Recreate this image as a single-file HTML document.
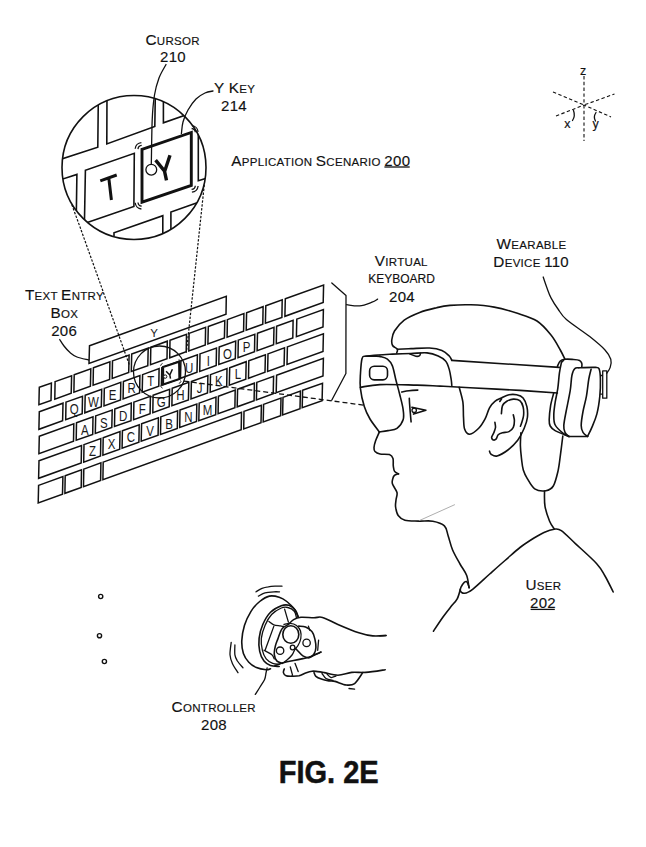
<!DOCTYPE html>
<html><head><meta charset="utf-8">
<style>
html,body{margin:0;padding:0;background:#fff;}
body{width:646px;height:847px;overflow:hidden;}
svg{display:block;}
text{font-family:"Liberation Sans",sans-serif;fill:#111;letter-spacing:0.3px;stroke:#111;stroke-width:0.15px;}
.k{fill:none;stroke:#111;stroke-width:1.5;stroke-linejoin:miter;}
.kl{font-size:11.5px;text-anchor:middle;fill:#1a1a1a;stroke:none;letter-spacing:0;}
.ln{fill:none;stroke:#111;stroke-width:1.6;stroke-linecap:round;stroke-linejoin:round;}
.ml{fill:none;stroke:#111;stroke-width:1.6;stroke-linejoin:miter;}
.let{fill:none;stroke:#111;stroke-width:3.0;stroke-linecap:butt;}
.yk{fill:none;stroke:#111;stroke-width:2.9;}
.arc{fill:none;stroke:#111;stroke-width:1.3;}
.th{fill:none;stroke:#111;stroke-width:1.3;stroke-linecap:round;stroke-linejoin:round;}
.ds{fill:none;stroke:#111;stroke-width:1.2;stroke-dasharray:2.4 1.5;}
.lb{font-size:15px;}
.cap{font-size:15.3px;}
.sc{font-size:11.5px;}
</style></head><body>
<svg width="646" height="847" viewBox="0 0 646 847">
<rect width="646" height="847" fill="#fff"/>
<text x="145.5" y="44.8"><tspan class="cap">C</tspan><tspan class="sc">URSOR</tspan></text>
<text class="lb" x="160" y="62">210</text>
<text x="214" y="93.4"><tspan class="cap">Y K</tspan><tspan class="sc">EY</tspan></text>
<text class="lb" x="221" y="110.9">214</text>
<text x="231.3" y="165.8"><tspan class="cap">A</tspan><tspan class="sc">PPLICATION </tspan><tspan class="cap">S</tspan><tspan class="sc">CENARIO </tspan><tspan class="lb">200</tspan></text>
<text x="374.8" y="266.1"><tspan class="cap">V</tspan><tspan class="sc">IRTUAL</tspan></text>
<text class="sc" x="368.2" y="283.4" style="font-size:12px;letter-spacing:0">KEYBOARD</text>
<text class="lb" x="389" y="302.4">204</text>
<text x="496.6" y="248.9"><tspan class="cap">W</tspan><tspan class="sc">EARABLE</tspan></text>
<text x="493.3" y="267"><tspan class="cap">D</tspan><tspan class="sc">EVICE </tspan><tspan class="lb">110</tspan></text>
<text x="24.9" y="300.4"><tspan class="cap">T</tspan><tspan class="sc">EXT </tspan><tspan class="cap">E</tspan><tspan class="sc">NTRY</tspan></text>
<text x="50.5" y="318"><tspan class="cap">B</tspan><tspan class="sc">OX</tspan></text>
<text class="lb" x="51.2" y="336.3">206</text>
<text x="525.5" y="590"><tspan class="cap">U</tspan><tspan class="sc">SER</tspan></text>
<text class="lb" x="530" y="607.5">202</text><line x1="530.6" y1="609.4" x2="554.8" y2="609.4" stroke="#111" stroke-width="1.3"/>
<line x1="384.4" y1="167" x2="409.7" y2="167" stroke="#111" stroke-width="1.3"/>
<text x="171.6" y="712.4"><tspan class="cap">C</tspan><tspan class="sc">ONTROLLER</tspan></text>
<text class="lb" x="201" y="729.8">208</text>
<text transform="translate(278.8,782.9) scale(1,1.11)" x="0" y="0" style="font-size:29px;font-weight:bold;stroke:#111;stroke-width:0.5;letter-spacing:0">FIG. 2E</text>
<polygon class="k" points="39.3,387.3 51.4,383.0 51.0,400.5 38.9,404.8"/>
<polygon class="k" points="55.1,381.6 71.6,375.7 71.2,393.2 54.8,399.1"/>
<polygon class="k" points="74.2,374.7 90.8,368.8 90.4,386.3 73.9,392.2"/>
<polygon class="k" points="93.4,367.8 109.9,361.9 109.6,379.4 93.1,385.3"/>
<polygon class="k" points="112.5,360.9 129.1,355.0 128.7,372.5 112.2,378.4"/>
<polygon class="k" points="131.7,354.0 148.2,348.1 147.8,365.6 131.3,371.5"/>
<polygon class="k" points="150.8,347.2 167.3,341.2 167.0,358.7 150.5,364.7"/>
<polygon class="k" points="170.0,340.3 186.5,334.3 186.2,351.8 169.7,357.8"/>
<polygon class="k" points="189.1,333.4 205.6,327.4 205.3,344.9 188.8,350.9"/>
<polygon class="k" points="208.3,326.5 224.8,320.5 224.4,338.0 207.9,344.0"/>
<polygon class="k" points="227.4,319.6 243.9,313.6 243.6,331.1 227.1,337.1"/>
<polygon class="k" points="246.6,312.7 263.1,306.7 262.8,324.2 246.2,330.2"/>
<polygon class="k" points="265.8,305.8 282.2,299.9 281.9,317.4 265.4,323.3"/>
<polygon class="k" points="285.3,298.8 323.6,285.0 323.2,302.5 284.9,316.3"/>
<polygon class="k" points="39.3,411.8 63.0,403.2 62.6,420.7 38.9,429.3"/>
<polygon class="k" points="66.0,402.1 82.5,396.2 82.2,413.7 65.7,419.6"/>
<text class="kl" transform="translate(74.2,408.5) scale(1,1.3)" x="0" y="4.1">Q</text>
<polygon class="k" points="85.2,395.3 101.7,389.3 101.3,406.8 84.8,412.8"/>
<text class="kl" transform="translate(93.4,401.6) scale(1,1.3)" x="0" y="4.1">W</text>
<polygon class="k" points="104.3,388.4 120.8,382.4 120.5,399.9 104.0,405.9"/>
<text class="kl" transform="translate(112.5,394.7) scale(1,1.3)" x="0" y="4.1">E</text>
<polygon class="k" points="123.4,381.5 139.9,375.5 139.6,393.0 123.1,399.0"/>
<text class="kl" transform="translate(131.7,387.8) scale(1,1.3)" x="0" y="4.1">R</text>
<polygon class="k" points="142.6,374.6 159.1,368.6 158.8,386.1 142.2,392.1"/>
<text class="kl" transform="translate(150.8,381.0) scale(1,1.3)" x="0" y="4.1">T</text>
<polygon class="k" points="161.8,367.7 178.2,361.7 177.9,379.2 161.4,385.2"/>
<polygon class="k" points="180.9,360.8 197.4,354.8 197.0,372.3 180.5,378.3"/>
<text class="kl" transform="translate(189.1,367.2) scale(1,1.3)" x="0" y="4.1">U</text>
<polygon class="k" points="200.0,353.9 216.5,348.0 216.2,365.5 199.7,371.4"/>
<text class="kl" transform="translate(208.3,360.3) scale(1,1.3)" x="0" y="4.1">I</text>
<polygon class="k" points="219.2,347.0 235.7,341.1 235.3,358.6 218.8,364.5"/>
<text class="kl" transform="translate(227.4,353.4) scale(1,1.3)" x="0" y="4.1">O</text>
<polygon class="k" points="238.3,340.1 254.8,334.2 254.5,351.7 238.0,357.6"/>
<text class="kl" transform="translate(246.6,346.5) scale(1,1.3)" x="0" y="4.1">P</text>
<polygon class="k" points="257.5,333.2 274.0,327.3 273.6,344.8 257.1,350.7"/>
<polygon class="k" points="276.6,326.3 293.1,320.4 292.8,337.9 276.3,343.8"/>
<polygon class="k" points="296.8,319.1 323.4,309.5 323.0,327.0 296.4,336.6"/>
<polygon class="k" points="39.3,436.2 73.8,423.8 73.5,441.3 38.9,453.7"/>
<polygon class="k" points="76.5,422.8 93.0,416.9 92.7,434.4 76.2,440.3"/>
<text class="kl" transform="translate(84.8,429.2) scale(1,1.3)" x="0" y="4.1">A</text>
<polygon class="k" points="95.7,415.9 112.2,410.0 111.8,427.5 95.3,433.4"/>
<text class="kl" transform="translate(103.9,422.3) scale(1,1.3)" x="0" y="4.1">S</text>
<polygon class="k" points="114.8,409.0 131.3,403.1 131.0,420.6 114.5,426.5"/>
<text class="kl" transform="translate(123.1,415.4) scale(1,1.3)" x="0" y="4.1">D</text>
<polygon class="k" points="133.9,402.1 150.4,396.2 150.1,413.7 133.6,419.6"/>
<text class="kl" transform="translate(142.2,408.5) scale(1,1.3)" x="0" y="4.1">F</text>
<polygon class="k" points="153.1,395.2 169.6,389.3 169.2,406.8 152.8,412.7"/>
<text class="kl" transform="translate(161.3,401.6) scale(1,1.3)" x="0" y="4.1">G</text>
<polygon class="k" points="172.2,388.3 188.8,382.4 188.4,399.9 171.9,405.8"/>
<text class="kl" transform="translate(180.5,394.7) scale(1,1.3)" x="0" y="4.1">H</text>
<polygon class="k" points="191.4,381.5 207.9,375.5 207.5,393.0 191.0,399.0"/>
<text class="kl" transform="translate(199.6,387.8) scale(1,1.3)" x="0" y="4.1">J</text>
<polygon class="k" points="210.5,374.6 227.0,368.6 226.7,386.1 210.2,392.1"/>
<text class="kl" transform="translate(218.8,380.9) scale(1,1.3)" x="0" y="4.1">K</text>
<polygon class="k" points="229.7,367.7 246.2,361.7 245.8,379.2 229.3,385.2"/>
<text class="kl" transform="translate(237.9,374.0) scale(1,1.3)" x="0" y="4.1">L</text>
<polygon class="k" points="248.8,360.8 265.4,354.8 265.0,372.3 248.5,378.3"/>
<polygon class="k" points="268.0,353.9 284.5,347.9 284.1,365.4 267.6,371.4"/>
<polygon class="k" points="287.4,346.9 323.4,333.9 323.0,351.4 287.0,364.4"/>
<polygon class="k" points="39.0,460.8 81.5,445.5 81.2,463.0 38.6,478.3"/>
<polygon class="k" points="84.0,444.6 100.8,438.5 100.5,456.0 83.7,462.1"/>
<text class="kl" transform="translate(92.4,450.9) scale(1,1.3)" x="0" y="4.1">Z</text>
<polygon class="k" points="103.2,437.7 120.0,431.6 119.7,449.1 102.9,455.2"/>
<text class="kl" transform="translate(111.6,444.0) scale(1,1.3)" x="0" y="4.1">X</text>
<polygon class="k" points="122.4,430.7 139.2,424.7 138.9,442.2 122.1,448.2"/>
<text class="kl" transform="translate(130.8,437.1) scale(1,1.3)" x="0" y="4.1">C</text>
<polygon class="k" points="141.6,423.8 158.4,417.8 158.1,435.3 141.2,441.3"/>
<text class="kl" transform="translate(150.0,430.2) scale(1,1.3)" x="0" y="4.1">V</text>
<polygon class="k" points="160.8,416.9 177.6,410.9 177.3,428.4 160.5,434.4"/>
<text class="kl" transform="translate(169.2,423.2) scale(1,1.3)" x="0" y="4.1">B</text>
<polygon class="k" points="180.0,410.0 196.8,404.0 196.5,421.5 179.7,427.5"/>
<text class="kl" transform="translate(188.4,416.3) scale(1,1.3)" x="0" y="4.1">N</text>
<polygon class="k" points="199.2,403.1 216.0,397.1 215.7,414.6 198.8,420.6"/>
<text class="kl" transform="translate(207.6,409.4) scale(1,1.3)" x="0" y="4.1">M</text>
<polygon class="k" points="218.4,396.2 235.2,390.1 234.9,407.6 218.1,413.7"/>
<polygon class="k" points="237.6,389.3 254.4,383.2 254.1,400.7 237.2,406.8"/>
<polygon class="k" points="256.8,382.4 273.6,376.3 273.2,393.8 256.4,399.9"/>
<polygon class="k" points="276.6,375.2 323.4,358.4 323.0,375.9 276.2,392.7"/>
<polygon class="k" points="38.6,485.4 62.9,476.6 62.5,494.1 38.2,502.9"/>
<polygon class="k" points="65.2,475.8 81.5,469.9 81.2,487.4 64.9,493.3"/>
<polygon class="k" points="83.8,469.1 100.9,462.9 100.6,480.4 83.5,486.6"/>
<polygon class="k" points="103.2,462.1 241.5,412.3 241.2,429.8 102.9,479.6"/>
<polygon class="k" points="244.0,411.4 261.4,405.2 261.0,422.7 243.7,428.9"/>
<polygon class="k" points="263.6,404.4 281.0,398.1 280.6,415.6 263.2,421.9"/>
<polygon class="k" points="283.0,397.4 300.4,391.1 300.0,408.6 282.6,414.9"/>
<polygon class="k" points="302.6,390.3 322.5,383.2 322.1,400.7 302.2,407.8"/>
<polygon class="k" points="89.5,345.7 226.3,296.3 226,314.2 89,363.4"/>
<text class="kl" x="154.2" y="337">Y</text>
<circle class="th" cx="159.5" cy="372" r="26"/>
<polygon points="163.1,366.9 179.1,361.8 179.4,379.1 163.1,384.5" fill="#fff" stroke="#111" stroke-width="2.1"/>
<path d="M166.1,371.3 L169.8,375 M172.4,369.3 L169.8,375 L170.5,378.6" fill="none" stroke="#111" stroke-width="1.5"/>
<circle cx="165.2" cy="376.6" r="1.7" fill="#fff" stroke="#111" stroke-width="1"/>
<path d="M160.6,365.8 Q161,363.8 162.6,363.4 M160.5,385.6 Q161,387.6 162.6,388.2 M181.2,381.2 Q180.6,383 178.8,383.4 M178.6,359.8 Q180.4,360 181,361.6" fill="none" stroke="#111" stroke-width="0.9"/>
<line class="ds" x1="81.1" y1="230" x2="129.4" y2="365"/>
<line class="ds" x1="71.8" y1="204.6" x2="81.1" y2="230"/>
<line class="ds" x1="204.3" y1="184.8" x2="186.4" y2="352.6"/>
<path class="ln" d="M396.7,352.9 C396.8,352.3 398.0,350.4 397.3,349.2 C396.6,348.0 393.5,347.1 392.6,345.5 C391.7,343.9 391.5,342.3 391.8,339.9 C392.1,337.5 392.4,334.3 394.5,331.0 C396.6,327.7 400.0,323.2 404.2,320.1 C408.4,317.0 414.3,314.5 419.7,312.4 C425.1,310.3 431.6,308.9 436.7,307.7 C441.8,306.5 444.3,305.9 450.0,305.4 C455.7,304.9 463.6,304.5 471.0,304.8 C478.4,305.1 486.5,305.7 494.2,307.1 C501.9,308.5 510.3,311.0 517.4,313.3 C524.5,315.6 531.4,317.4 537.0,321.0 C542.6,324.6 547.1,330.2 551.0,335.0 C554.9,339.8 558.0,345.9 560.3,350.0 C562.6,354.1 564.2,357.8 565.0,359.3"/>
<path class="ln" d="M397.3,349.2 C399.6,349.1 405.6,348.8 411.0,348.6 C416.4,348.4 424.4,347.7 429.5,348.0 C434.6,348.3 438.6,349.1 441.9,350.4 C445.2,351.7 447.6,354.3 449.3,356.0 C451.0,357.7 451.4,359.7 451.8,360.4"/>
<path class="ln" d="M451.8,360.4 L559.2,367.4"/>
<path class="ln" d="M365.7,356.2 C367.8,356.0 373.7,355.4 378.1,355.0 C382.6,354.6 386.9,354.4 392.4,354.1 C397.9,353.9 405.2,353.7 411.0,353.5 C416.8,353.3 422.5,352.5 427.0,352.9 C431.5,353.3 435.1,354.6 438.2,356.0 C441.3,357.4 443.8,358.7 445.6,361.0 C447.5,363.3 448.4,366.5 449.3,369.6 C450.2,372.7 450.8,376.9 451.2,379.5 C451.6,382.1 451.7,384.5 451.8,385.5"/>
<path class="ln" d="M410.0,354.0 C411.0,354.4 414.3,355.9 415.9,356.2 C417.5,356.5 418.9,356.1 419.6,355.6 C420.4,355.1 420.3,353.7 420.4,353.3"/>
<path class="ln" d="M380.0,356.4 C377.6,356.4 368.7,355.8 365.7,356.2 C362.7,356.6 362.9,355.6 362.0,358.7 C361.1,361.8 360.7,369.9 360.4,374.8 C360.1,379.8 359.8,383.1 360.4,388.4 C361.0,393.7 362.7,401.4 364.3,406.5 C365.9,411.6 367.5,414.8 370.0,419.0 C372.5,423.2 377.8,429.8 379.4,431.9"/>
<path class="ln" d="M380.0,356.4 C381.2,356.8 385.3,357.5 387.4,359.1 C389.5,360.7 391.0,362.4 392.4,365.9 C393.8,369.4 394.7,375.3 395.9,380.0 C397.1,384.7 398.4,389.2 399.6,394.0 C400.8,398.8 402.4,404.4 403.0,408.7 C403.6,412.9 404.2,416.2 403.2,419.5 C402.2,422.8 399.5,426.4 397.0,428.3 C394.5,430.2 390.9,430.0 388.0,430.6 C385.1,431.2 380.8,431.7 379.4,431.9"/>
<rect class="ln" x="369.6" y="366.3" width="17.9" height="13.6" rx="4.6" ry="4.6"/>
<path class="ln" d="M360.4,387.3 C363.7,386.9 370.6,385.0 380.0,384.6 C389.4,384.2 407.0,384.9 417.0,385.1 C427.0,385.4 431.2,385.7 440.0,386.1 C448.8,386.5 456.7,387.0 470.0,387.7 C483.3,388.4 505.4,389.5 520.0,390.4 C534.6,391.3 551.2,392.6 557.4,393.0"/>
<path class="ln" d="M401.7,392.0 C402.9,391.8 406.3,391.1 409.0,390.8 C411.7,390.5 416.3,390.2 417.8,390.1"/>
<path class="ln" d="M409.3,398.3 C409.4,399.2 409.4,401.4 409.6,404.0 C409.8,406.6 410.1,411.0 410.4,414.0 C410.6,417.0 411.0,420.6 411.1,421.9"/>
<path class="ln" d="M411.9,407.2 L425.9,410.2 L413.5,414.1"/>
<circle class="th" cx="414.2" cy="410.3" r="2.2"/>
<path class="ln" d="M379.4,431.9 C378.8,433.4 376.5,438.2 375.6,440.8 C374.7,443.4 374.1,445.7 374.0,447.5 C373.9,449.3 374.0,450.4 375.0,451.5 C376.0,452.6 377.6,453.5 380.0,454.0 C382.4,454.5 387.2,453.9 389.4,454.6 C391.6,455.4 392.4,456.6 393.0,458.5 C393.6,460.4 393.0,463.9 393.3,466.0 C393.6,468.1 393.7,470.1 394.6,471.4 C395.5,472.7 397.9,473.4 398.5,473.8"/>
<path class="ln" d="M398.5,473.8 C397.8,474.1 395.2,474.7 394.2,475.6 C393.2,476.6 392.9,478.1 392.6,479.5 C392.3,480.9 391.8,481.9 392.5,484.1 C393.2,486.3 396.4,489.9 397.0,492.5 C397.6,495.1 396.2,497.6 396.0,500.0 C395.8,502.4 395.2,504.4 395.6,507.0 C396.0,509.6 396.6,513.3 398.2,515.5 C399.8,517.7 401.5,519.3 404.9,520.2 C408.3,521.1 414.1,520.9 418.8,521.1 C423.5,521.3 428.5,520.4 432.8,521.2 C437.1,522.0 441.8,523.4 444.4,525.9 C447.0,528.4 446.8,532.0 448.2,536.0 C449.6,540.0 450.5,545.0 452.5,549.7 C454.5,554.4 457.6,559.7 460.0,564.0 C462.4,568.3 465.2,571.5 466.7,575.5 C468.2,579.5 468.6,585.8 469.0,587.9"/>
<path d="M418.8,520.8 L454.9,504.6" fill="none" stroke="#999" stroke-width="0.8"/>
<path class="ln" d="M459.2,387.3 C459.8,389.8 462.2,397.2 462.9,402.2 C463.6,407.2 463.2,412.6 463.5,417.1 C463.8,421.6 463.6,426.1 464.6,429.0 C465.6,431.9 467.4,434.3 469.7,434.2 C472.0,434.1 476.1,430.9 478.7,428.3 C481.3,425.7 483.4,422.0 485.2,418.6 C487.0,415.2 487.9,410.7 489.5,407.8 C491.1,404.9 492.9,402.9 494.9,401.3 C496.9,399.7 499.0,399.1 501.4,398.0 C503.8,396.9 506.5,395.3 509.0,394.8 C511.5,394.3 514.2,394.3 516.6,394.8 C519.0,395.3 521.4,396.0 523.1,398.0 C524.8,400.0 526.2,403.4 526.9,406.7 C527.6,409.9 527.8,413.9 527.4,417.5 C527.0,421.1 525.8,424.5 524.2,428.3 C522.6,432.1 520.4,436.7 517.7,440.3 C515.0,443.9 511.3,447.4 507.9,450.0 C504.5,452.6 499.9,455.3 497.1,456.0 C494.3,456.7 492.4,455.1 491.1,454.3 C489.8,453.5 489.8,451.6 489.5,451.1"/>
<path class="ln" d="M501.4,413.7 C501.6,412.4 501.6,407.7 502.5,405.6 C503.4,403.5 505.0,402.4 506.8,401.3 C508.6,400.2 511.1,399.2 513.3,399.1 C515.5,399.0 518.2,399.4 519.8,400.7 C521.4,402.0 522.5,404.3 523.1,406.7 C523.7,409.1 523.8,412.8 523.6,415.3 C523.4,417.8 522.5,420.0 522.0,421.8 C521.5,423.6 520.7,425.5 520.4,426.2"/>
<path class="ln" d="M499.8,401.5 L501.6,398.8"/>
<path class="ln" d="M513.3,414.8 C513.5,415.8 514.4,418.7 514.4,420.8 C514.4,422.9 514.2,425.5 513.3,427.3 C512.4,429.1 510.8,430.7 509.0,431.6 C507.2,432.5 504.3,432.2 502.5,432.7 C500.7,433.2 499.3,433.7 498.2,434.8 C497.1,435.9 496.9,438.4 496.0,439.2 C495.1,440.0 493.5,440.1 492.8,439.7 C492.1,439.3 491.5,438.2 491.7,437.0 C491.9,435.8 493.2,434.3 493.8,432.7 C494.4,431.1 495.3,429.2 495.5,427.5 C495.7,425.8 495.0,423.2 494.9,422.4"/>
<path class="ln" d="M520.9,432.7 C520.8,434.9 520.3,441.4 520.4,445.7 C520.5,450.0 521.0,454.6 521.5,458.7 C522.0,462.8 522.3,466.7 523.3,470.0 C524.3,473.3 525.4,475.5 527.3,478.6 C529.2,481.7 531.6,486.8 534.7,488.8 C537.8,490.8 542.8,491.2 545.9,490.7 C549.0,490.2 551.3,489.3 553.3,486.0 C555.3,482.7 556.8,476.2 558.0,471.1 C559.2,466.0 559.6,461.0 560.4,455.1 C561.2,449.2 562.4,439.2 562.8,436.0"/>
<path class="ln" d="M544.5,491.0 C544.6,493.6 544.1,501.3 545.0,506.4 C545.9,511.4 548.1,517.6 549.6,521.3 C551.1,525.0 553.4,527.5 554.2,528.7"/>
<path class="ln" d="M469.3,587.5 C468.8,586.5 467.5,582.1 466.4,581.6 C465.3,581.1 463.5,583.0 462.5,584.5 C461.5,586.0 459.9,589.0 460.2,590.5 C460.5,592.0 462.4,593.4 464.5,593.2 C466.6,593.0 468.4,592.5 472.6,589.3 C476.8,586.1 484.3,578.8 489.7,574.0 C495.1,569.2 499.9,564.9 505.0,560.5 C510.1,556.1 515.2,551.2 520.0,547.5 C524.8,543.8 530.0,540.5 534.0,538.0 C538.0,535.5 540.6,533.9 544.0,532.4 C547.4,530.9 551.3,529.5 554.2,529.2 C557.1,528.9 557.8,528.2 561.3,530.6 C564.8,533.0 569.5,538.1 575.4,543.6 C581.3,549.1 591.8,558.3 596.7,563.7 C601.6,569.1 602.2,571.3 605.0,576.0 C607.8,580.7 611.8,589.3 613.2,592.0"/>
<path class="ln" d="M460.4,589.0 C459.9,590.6 458.8,595.9 457.2,598.8 C455.6,601.7 453.4,603.6 451.0,606.6 C448.6,609.6 445.9,612.9 443.0,617.0 C440.1,621.1 435.0,628.8 433.4,631.2"/>
<path class="ln" d="M557.4,366.3 C557.9,365.4 559.0,362.2 560.3,361.0 C561.6,359.8 563.0,359.6 565.0,359.3 C567.0,359.0 569.6,359.2 572.0,359.4 C574.4,359.6 577.9,359.7 579.5,360.4 C581.1,361.1 581.4,362.3 581.8,363.4 C582.2,364.5 581.8,366.2 581.8,366.8"/>
<path class="ln" d="M561.5,362.2 L563.5,360.4"/>
<path class="ln" d="M553.6,393.5 C553.1,395.5 551.3,401.3 550.6,405.7 C549.9,410.1 549.3,416.3 549.2,419.7 C549.1,423.1 549.2,424.2 550.2,426.0 C551.2,427.8 552.0,428.9 555.1,430.6 C558.2,432.4 566.7,435.5 569.0,436.5"/>
<path class="ln" d="M561.5,362.2 C561.1,364.0 560.0,368.8 559.4,373.2 C558.8,377.6 558.5,383.5 557.8,388.3 C557.1,393.1 555.9,397.8 555.2,402.2 C554.5,406.6 553.8,411.2 553.8,415.0 C553.8,418.8 553.6,421.9 555.2,425.0 C556.8,428.1 560.9,431.5 563.2,433.4 C565.5,435.3 568.0,436.0 569.0,436.5"/>
<path class="ln" d="M569.0,436.5 C568.3,435.8 565.9,434.2 565.0,432.4 C564.1,430.6 563.6,429.0 563.8,425.5 C564.0,422.0 565.0,417.3 566.1,411.5 C567.2,405.7 569.2,396.6 570.2,390.6 C571.2,384.6 571.1,379.2 571.9,375.5 C572.7,371.8 573.4,369.9 574.8,368.6 C576.1,367.3 576.5,368.0 580.0,367.8 C583.5,367.6 592.5,367.2 595.7,367.4 C598.9,367.6 598.4,367.3 599.2,369.2 C600.0,371.1 600.3,374.5 600.4,379.0 C600.5,383.5 600.4,390.6 599.8,396.4 C599.2,402.2 598.2,408.9 596.9,413.9 C595.6,418.9 593.8,422.9 592.2,426.6 C590.7,430.3 588.4,434.7 587.6,436.3"/>
<path class="ln" d="M569.0,436.5 L587.6,436.5"/>
<path class="ln" d="M591.1,369.2 C590.7,370.8 589.6,374.5 588.8,379.0 C588.0,383.5 587.4,391.0 586.4,396.4 C585.4,401.8 583.9,406.6 583.0,411.5 C582.1,416.4 581.2,422.0 581.2,425.5 C581.2,429.0 581.9,430.6 583.0,432.4 C584.1,434.2 586.8,435.8 587.6,436.5"/>
<rect class="th" x="602.7" y="370.9" width="4.1" height="27.3"/>
<path class="th" d="M600.6,375.5 L602.1,375.5"/>
<path class="th" d="M600.6,394.1 L602.1,394.1"/>
<path class="th" d="M543.2,277.0 C543.8,278.8 545.7,284.5 547.0,288.0 C548.3,291.5 549.2,294.4 551.0,297.9 C552.8,301.4 555.4,305.4 558.0,309.0 C560.6,312.6 561.1,314.9 566.4,319.5 C571.7,324.1 583.3,331.5 589.7,336.6 C596.1,341.7 601.5,346.2 605.0,350.0 C608.5,353.8 609.9,356.4 610.8,359.3 C611.7,362.2 610.9,365.1 610.2,367.4 C609.5,369.7 607.4,372.2 606.8,373.2"/>
<path d="M363.3,405.1 L180.5,380.6" fill="none" stroke="#111" stroke-width="1.3" stroke-dasharray="5 3"/>
<path class="th" d="M331.8,283 L346,295.4 L345.9,373.5 L331.7,400.2"/>
<path class="th" d="M346.6,304.7 C348.8,304.9 355.4,306.3 359.6,305.9 C363.8,305.5 369.0,303.3 372.0,302.2 C375.0,301.1 376.7,299.6 377.6,299.1"/>
<defs><clipPath id="cc"><circle cx="134" cy="167.5" r="72"/></clipPath></defs>
<g clip-path="url(#cc)"><path class="ml" d="M98.4,90.0 L97.8,147.2 L55.0,161.2"/>
<path class="ml" d="M107.0,90.0 L106.8,143.9 L154.8,126.5 L155.4,90.0"/>
<path class="ml" d="M163.4,90.0 L163.4,122.8 L200.0,110.0"/>
<path class="ml" d="M55.0,181.5 L76.9,174.4 L76.3,215.0"/>
<path class="ml" d="M84.3,230.0 L85.4,170.2 L134.3,153.3 L133.9,206.4 L80.0,225.0"/>
<path class="ml" d="M198.3,125.0 L198.3,180.7 L215.0,175.5"/>
<path class="ml" d="M114.0,245.0 L114.0,232.8 L162.8,215.7 L162.8,245.0"/>
<path class="ml" d="M170.9,245.0 L170.9,212.0 L215.0,196.5"/></g>
<path class="let" d="M100.3,180.8 L116.7,175 M108.8,178.0 L111.4,200"/>
<polygon class="yk" points="142,149.4 191.3,132.5 191.3,185.4 142,202.2"/>
<path class="let" style="stroke-width:3.4" d="M155.6,160.2 L164.8,171.3 M170,155.3 L164.6,171.5 L166.5,180.4"/>
<path class="arc" d="M138.0,149.1 A4.0,4.0 0 0 1 141.7,145.4"/>
<path class="arc" d="M135.2,148.8 A6.8,6.8 0 0 1 141.4,142.6"/>
<path class="arc" d="M191.6,128.5 A4.0,4.0 0 0 1 195.3,132.2"/>
<path class="arc" d="M191.9,125.7 A6.8,6.8 0 0 1 198.1,131.9"/>
<path class="arc" d="M195.3,185.7 A4.0,4.0 0 0 1 191.6,189.4"/>
<path class="arc" d="M198.1,186.0 A6.8,6.8 0 0 1 191.9,192.2"/>
<path class="arc" d="M141.7,206.2 A4.0,4.0 0 0 1 138.0,202.5"/>
<path class="arc" d="M141.4,209.0 A6.8,6.8 0 0 1 135.2,202.8"/>
<circle cx="151.3" cy="169.7" r="5.4" fill="#fff" stroke="#111" stroke-width="1.3"/>
<circle class="ln" cx="134" cy="167.5" r="72"/>
<path class="th" d="M166.0,64.5 C164.8,66.8 160.9,72.9 159.0,78.0 C157.1,83.1 155.6,88.0 154.5,95.0 C153.4,102.0 152.7,108.5 152.2,120.0 C151.7,131.6 151.5,156.9 151.3,164.3"/>
<path class="th" d="M213.0,91.0 C211.7,91.3 207.8,91.7 205.0,93.0 C202.2,94.3 198.8,96.2 196.0,99.0 C193.2,101.8 190.2,106.2 188.0,110.0 C185.8,113.8 184.1,118.1 183.0,122.0 C181.9,125.9 181.7,131.6 181.4,133.5"/>
<path class="th" d="M256.0,591.8 C257.0,591.2 259.9,589.1 262.0,588.3 C264.1,587.5 266.1,587.1 268.3,586.8 C270.5,586.4 272.7,586.3 275.0,586.2 C277.3,586.1 280.8,586.2 282.0,586.2"/>
<path class="th" d="M258.4,596.1 C259.2,595.7 261.4,594.2 263.0,593.6 C264.6,593.0 266.5,592.7 268.3,592.4 C270.1,592.1 272.1,591.9 274.0,591.8 C275.9,591.7 278.6,591.8 279.5,591.8"/>
<path class="th" d="M231.2,642.4 C231.0,644.5 229.8,651.3 230.0,654.8 C230.2,658.3 231.1,660.4 232.4,663.4 C233.7,666.4 237.1,671.2 238.0,672.7"/>
<path class="th" d="M234.9,644.9 C234.9,646.5 234.5,652.1 234.9,654.8 C235.3,657.5 236.1,658.8 237.4,661.0 C238.8,663.2 242.1,666.7 243.0,667.8"/>
<path class="ln" d="M298.1,616.7 C297.5,615.4 296.2,611.6 294.3,609.1 C292.4,606.6 289.3,603.5 286.8,601.5 C284.3,599.5 282.1,598.1 279.2,597.2 C276.3,596.3 272.6,595.4 269.4,596.1 C266.1,596.8 262.8,599.0 259.7,601.5 C256.6,604.0 253.5,607.3 251.0,611.3 C248.5,615.3 246.0,620.4 244.5,625.3 C243.0,630.2 242.0,635.8 241.8,640.5 C241.6,645.2 242.2,649.9 243.4,653.5 C244.6,657.1 246.6,659.9 248.8,662.2 C251.0,664.6 253.5,666.3 256.4,667.6 C259.3,668.9 263.8,669.6 266.2,669.8 C268.6,670.0 269.8,668.9 270.5,668.7"/>
<path class="ln" d="M298.1,616.7 C297.7,615.6 296.9,612.1 295.4,610.2 C293.9,608.3 291.2,606.0 288.9,605.3 C286.5,604.6 284.4,604.6 281.3,605.8 C278.2,607.0 273.6,609.2 270.5,612.3 C267.4,615.4 264.8,620.0 262.9,624.3 C261.0,628.6 259.6,633.8 259.1,638.3 C258.6,642.8 258.9,647.5 259.7,651.3 C260.5,655.1 262.2,658.8 264.0,661.1 C265.8,663.5 268.0,664.5 270.5,665.4 C273.0,666.3 277.8,666.3 279.2,666.5"/>
<path class="th" d="M296.5,617.8 C296.1,616.7 295.8,613.0 294.3,611.3 C292.9,609.6 290.0,608.0 287.8,607.5 C285.6,607.0 284.0,606.8 281.3,608.0 C278.6,609.2 274.3,611.6 271.6,614.5 C268.9,617.4 266.8,621.3 265.1,625.3 C263.4,629.3 261.8,634.1 261.3,638.3 C260.9,642.5 261.6,646.9 262.4,650.3 C263.2,653.7 264.5,656.7 266.2,658.9 C267.9,661.1 270.5,662.4 272.7,663.3 C274.9,664.2 278.1,664.1 279.2,664.3"/>
<path class="th" d="M268.9,621.5 C269.7,622.0 271.9,624.1 273.8,624.8 C275.7,625.5 278.7,625.6 280.3,625.9 C281.9,626.2 283.0,626.3 283.5,626.4"/>
<path class="th" d="M284.6,609.1 L288.4,622.1"/>
<path class="th" d="M273.8,626.4 L265.1,650.3"/>
<path class="th" d="M264.0,650.3 C265.3,651.0 269.9,653.2 271.6,654.6 C273.3,656.0 273.9,658.2 274.3,658.9"/>
<path class="ln" d="M288.5,624.3 C287.4,625.1 283.8,626.4 282.0,628.9 C280.2,631.4 278.9,636.3 277.8,639.1 C276.7,641.9 276.0,643.3 275.4,645.9 C274.8,648.5 274.0,652.1 274.3,654.6 C274.6,657.1 275.6,659.7 277.0,661.1 C278.4,662.5 281.5,662.9 282.4,663.3"/>
<ellipse class="ln" cx="290.8" cy="634.5" rx="8.0" ry="8.8"/>
<path class="th" d="M284.0,624.5 C285.0,624.3 287.9,623.2 290.0,623.4 C292.1,623.5 294.8,624.1 296.5,625.4 C298.2,626.7 299.8,628.8 300.5,631.0 C301.2,633.2 301.2,636.1 300.8,638.5 C300.4,640.9 299.0,643.8 298.0,645.5 C297.0,647.2 295.5,648.4 295.0,649.0"/>
<path class="ln" d="M275.0,665.6 C276.6,665.1 281.2,663.2 284.3,662.4 C287.4,661.5 290.5,661.1 293.6,660.5 C296.7,659.9 300.1,659.2 302.9,658.6 C305.7,658.0 307.3,657.9 310.3,656.8 C313.3,655.7 319.2,652.9 321.0,652.1"/>
<path class="th" d="M295.0,649.0 C294.5,650.0 293.3,653.2 292.0,655.0 C290.7,656.8 288.6,658.6 287.0,660.0 C285.4,661.4 283.2,662.8 282.4,663.3"/>
<path class="ln" d="M298.7,626.1 C299.9,626.3 303.4,626.2 305.6,627.1 C307.8,628.0 310.6,629.7 312.1,631.7 C313.7,633.7 314.3,636.5 314.9,639.1 C315.5,641.7 316.0,645.0 315.9,647.5 C315.8,650.0 315.1,652.3 314.0,654.0 C312.9,655.7 311.2,657.4 309.4,657.7 C307.5,658.0 304.9,657.1 302.9,655.9 C300.9,654.7 298.6,651.5 297.3,650.3 C296.1,649.0 295.7,648.7 295.4,648.4"/>
<circle class="th" cx="306.6" cy="642.9" r="3.7"/>
<circle class="th" cx="292.6" cy="647.5" r="2.3"/>
<circle class="th" cx="280.1" cy="650.7" r="3.7"/>
<path class="ln" d="M288.5,624.3 C289.4,623.5 291.5,620.8 293.6,619.6 C295.7,618.4 297.6,617.6 301.0,617.3 C304.4,617.0 310.4,617.8 314.0,617.8 C317.6,617.8 318.5,616.3 322.5,617.4 C326.5,618.5 331.8,621.8 337.9,624.4 C343.9,627.0 353.0,630.8 358.8,632.7 C364.6,634.6 368.2,635.4 372.7,635.9 C377.2,636.4 383.7,635.6 385.9,635.5"/>
<path class="th" d="M308.4,626.1 L309.8,630.3"/>
<path class="th" d="M318.6,640.1 L317.7,650.3"/>
<path class="th" d="M308.4,657.7 C309.3,657.2 311.9,655.9 314.0,655.0 C316.1,654.1 319.8,652.6 321.0,652.1"/>
<path class="ln" d="M284.3,668.9 C284.1,669.5 283.1,671.5 283.4,672.6 C283.7,673.8 284.7,675.2 286.1,675.8 C287.5,676.4 290.8,676.2 291.7,676.3"/>
<path class="th" d="M290.3,667.0 L292.6,675.4"/>
<path class="th" d="M295.0,663.3 L298.2,671.6"/>
<path class="ln" d="M291.7,676.3 C292.9,676.2 296.8,676.3 299.1,675.8 C301.4,675.2 303.4,673.8 305.6,673.0 C307.8,672.2 310.1,671.4 312.1,671.2 C314.1,671.0 315.7,671.4 317.7,671.6 C319.7,671.8 320.8,672.0 324.2,672.6 C327.6,673.2 333.3,675.2 337.9,675.2 C342.5,675.2 347.2,672.9 351.8,672.4 C356.4,671.9 360.1,672.8 365.7,672.4 C371.3,672.0 381.9,670.2 385.2,669.7"/>
<path class="ln" d="M314.0,672.6 C314.3,673.2 314.7,675.2 315.9,676.3 C317.1,677.4 319.2,678.3 321.4,679.1 C323.6,679.9 326.6,680.5 328.9,680.9 C331.2,681.3 332.1,680.7 335.0,681.4 C337.9,682.1 342.9,684.6 346.2,685.0 C349.5,685.4 351.8,685.7 354.6,683.6 C357.4,681.5 361.5,674.3 362.9,672.4"/>
<path class="th" d="M322.0,673.5 C322.7,674.3 324.2,677.3 326.0,678.5 C327.8,679.7 331.8,680.2 333.0,680.5"/>
<path class="th" d="M327.0,674.0 C327.7,674.6 329.5,677.2 331.0,677.5 C332.5,677.8 335.2,676.2 336.0,676.0"/>
<path class="th" d="M349.0,688.5 L354.6,689.2"/>
<path class="th" d="M267.1,667.8 C266.9,668.7 266.4,671.0 266.0,673.0 C265.6,675.0 265.6,677.2 264.6,679.5 C263.6,681.8 261.6,684.5 260.0,687.0 C258.4,689.5 256.1,693.2 255.3,694.4"/>
<path class="th" d="M380.0,635.9 L386.2,635.5"/>
<circle cx="100.7" cy="596.5" r="2.1" fill="none" stroke="#111" stroke-width="1.4"/>
<circle cx="99.5" cy="635.7" r="2.1" fill="none" stroke="#111" stroke-width="1.4"/>
<circle cx="104.4" cy="661.5" r="2.1" fill="none" stroke="#111" stroke-width="1.4"/>
<path d="M584,76 L584,141" fill="none" stroke="#111" stroke-width="1.1" stroke-dasharray="3.4 2.4"/>
<path d="M553,92 L584,105 L614.5,94" fill="none" stroke="#111" stroke-width="1.1" stroke-dasharray="3.4 2.4"/>
<path d="M556,116 L584,105 L611,117" fill="none" stroke="#111" stroke-width="1.1" stroke-dasharray="3.4 2.4"/>
<text x="580" y="75.3" style="font-size:12.5px;letter-spacing:0">z</text>
<text x="564.3" y="127.6" style="font-size:12.5px;letter-spacing:0">x</text>
<text x="592.6" y="127.6" style="font-size:12.5px;letter-spacing:0">y</text>
<path class="th" d="M573.5,110.5 Q575.5,116 572.5,120.5"/>
<path class="th" d="M596,112.5 Q593,117 595.5,121"/>
<path class="th" d="M59.7,339.5 C60.4,340.6 62.3,343.8 64.0,346.0 C65.7,348.2 67.8,350.7 70.0,352.5 C72.2,354.3 73.9,355.8 77.0,357.0 C80.1,358.2 86.6,359.5 88.5,360.0"/>
</svg>
</body></html>
